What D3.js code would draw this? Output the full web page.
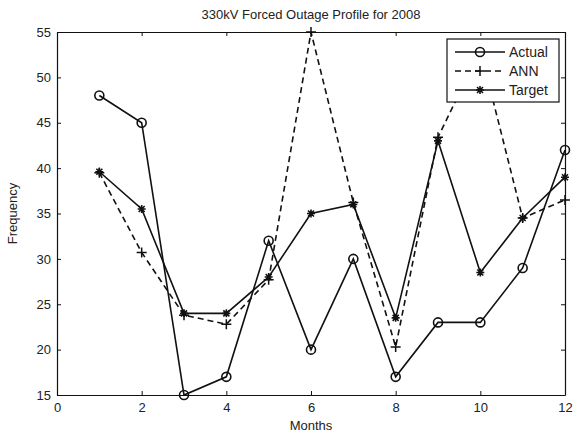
<!DOCTYPE html>
<html>
<head>
<meta charset="utf-8">
<script src="https://cdn.jsdelivr.net/npm/d3@7"></script>
<style>
  body { margin: 0; background: #fff; }
  text { font-family: "Liberation Sans", Arial, Helvetica, sans-serif; fill: #222; }
</style>
</head>
<body>
<div id="chart"></div>
<script>
var months = [1, 2, 3, 4, 5, 6, 7, 8, 9, 10, 11, 12];
var actual = [48, 45, 15, 17, 32, 20, 30, 17, 23, 23, 29, 42];
var ann    = [39.5, 30.7, 23.8, 22.8, 27.7, 55, 36.2, 20.3, 43.4, 53, 34.5, 36.5];
var target = [39.6, 35.5, 24, 24, 28, 35, 36, 23.5, 43, 28.5, 34.5, 39];
var xTicks = [0, 2, 4, 6, 8, 10, 12];
var yTicks = [15, 20, 25, 30, 35, 40, 45, 50, 55];
var seriesNames = ["Actual", "ANN", "Target"];

var width = 574, height = 437;
var margin = {top: 32, left: 57, right: 9, bottom: 42};
var fontSize = "13px";

var svg = d3.select("#chart")
    .append("svg")
    .attr("width", width)
    .attr("height", height);

var x = d3.scaleLinear().domain([0, 12]).range([margin.left, width - margin.right]);
var y = d3.scaleLinear().domain([15, 55]).range([height - margin.bottom, margin.top]);

// axes with inward ticks, box on all sides
svg.append("g")
    .attr("transform", "translate(0," + y(15) + ")")
    .call(d3.axisBottom(x).tickValues(xTicks).tickSizeInner(-4).tickSizeOuter(0).tickPadding(8))
svg.append("g")
    .attr("transform", "translate(0," + y(55) + ")")
    .call(d3.axisTop(x).tickValues(xTicks).tickSizeInner(-4).tickSizeOuter(0).tickFormat(""))
svg.append("g")
    .attr("transform", "translate(" + x(0) + ",0)")
    .call(d3.axisLeft(y).tickValues(yTicks).tickSizeInner(-4).tickSizeOuter(0).tickPadding(6))
svg.append("g")
    .attr("transform", "translate(" + x(12) + ",0)")
    .call(d3.axisRight(y).tickValues(yTicks).tickSizeInner(-4).tickSizeOuter(0).tickFormat(""))

svg.selectAll(".domain").attr("stroke", "#111").attr("stroke-width", 1.2)
svg.selectAll(".tick line").attr("stroke", "#111")
svg.selectAll(".tick text").style("font-size", fontSize).style("fill", "#222")

svg.append("text")
    .attr("x", (x(0) + x(12)) / 2)
    .attr("y", 19)
    .attr("text-anchor", "middle")
    .style("font-size", fontSize)
    .text("330kV Forced Outage Profile for 2008")

svg.append("text")
    .attr("x", (x(0) + x(12)) / 2)
    .attr("y", 430)
    .attr("text-anchor", "middle")
    .style("font-size", fontSize)
    .text("Months")

svg.append("text")
    .attr("transform", "translate(17," + ((y(15) + y(55)) / 2) + ") rotate(-90)")
    .attr("text-anchor", "middle")
    .style("font-size", fontSize)
    .text("Frequency")

var line = d3.line()
    .x(function(d){ return x(d[0]); })
    .y(function(d){ return y(d[1]); })

function pairs(vals){
    return months.map(function(m, i){ return [m, vals[i]]; });
}

function drawMarker(g, kind, cx, cy){
    if(kind === "circle"){
        g.append("circle").attr("cx", cx).attr("cy", cy).attr("r", 4.5)
            .attr("fill", "none").attr("stroke", "#111").attr("stroke-width", 1.6)
    }else if(kind === "plus"){
        g.append("path").attr("d", "M" + (cx - 5) + "," + cy + "H" + (cx + 5) + "M" + cx + "," + (cy - 5) + "V" + (cy + 5))
            .attr("stroke", "#111").attr("stroke-width", 1.5)
    }else{
        var s = 4, t = 3;
        g.append("path").attr("d",
            "M" + (cx - s) + "," + cy + "H" + (cx + s) +
            "M" + cx + "," + (cy - s) + "V" + (cy + s) +
            "M" + (cx - t) + "," + (cy - t) + "L" + (cx + t) + "," + (cy + t) +
            "M" + (cx - t) + "," + (cy + t) + "L" + (cx + t) + "," + (cy - t))
            .attr("stroke", "#111").attr("stroke-width", 1.6)
    }
}

var series = [
    {name: seriesNames[0], vals: actual, dash: null, marker: "circle"},
    {name: seriesNames[1], vals: ann, dash: "6,4", marker: "plus"},
    {name: seriesNames[2], vals: target, dash: null, marker: "star"}
]

series.forEach(function(s){
    var g = svg.append("g");
    g.append("path")
        .datum(pairs(s.vals))
        .attr("d", line)
        .attr("fill", "none")
        .attr("stroke", "#111")
        .attr("stroke-width", 1.6)
        .attr("stroke-dasharray", s.dash)
    pairs(s.vals).forEach(function(p){
        drawMarker(g, s.marker, x(p[0]), y(p[1]));
    });
});

// legend
var lg = svg.append("g");
lg.append("rect")
    .attr("x", 447).attr("y", 39).attr("width", 112).attr("height", 63)
    .attr("fill", "#fff").attr("stroke", "#111").attr("stroke-width", 1.2)

series.forEach(function(s, i){
    var ly = 52 + i * 19;
    lg.append("line")
        .attr("x1", 455).attr("x2", 505).attr("y1", ly).attr("y2", ly)
        .attr("stroke", "#111").attr("stroke-width", 1.6)
        .attr("stroke-dasharray", s.dash)
    drawMarker(lg, s.marker, 480, ly);
    lg.append("text")
        .attr("x", 509).attr("y", ly + 5)
        .style("font-size", "14px")
        .text(s.name)
});
</script>
</body>
</html>
